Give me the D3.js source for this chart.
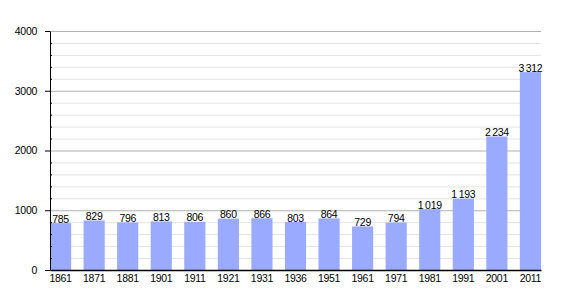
<!DOCTYPE html>
<html>
<head>
<meta charset="utf-8">
<script src="https://cdn.jsdelivr.net/npm/d3@7"></script>
<style>
  body { margin: 0; background: #fff; }
  text { font-family: "Liberation Sans", Arial, sans-serif; }
</style>
</head>
<body>
<div id="chart"></div>
<script>
// census years and population
const years = ["1861","1871","1881","1901","1911","1921","1931","1936","1951","1961","1971","1981","1991","2001","2011"];
const population = [785, 829, 796, 813, 806, 860, 866, 803, 864, 729, 794, 1019, 1193, 2234, 3312];
const yTicks = [0, 1000, 2000, 3000, 4000];

const size = {width: 570, height: 300};
const margin = {top: 31, right: 29, bottom: 30, left: 50};
const width = size.width - margin.left - margin.right;
const height = size.height - margin.top - margin.bottom;
const fontSize = 10.5;

const svg = d3.select("#chart").append("svg")
    .attr("width", size.width)
    .attr("height", size.height)
    .append("g")
    .attr("transform", "translate(" + margin.left + "," + margin.top + ")");

const xScale = d3.scaleBand().domain(years).range([0, width]).paddingInner(0.37).paddingOuter(0);
const yScale = d3.scaleLinear().domain([0, 4000]).range([height, 0]);

// thousands with a space, like "1 019"
const fmt = v => v >= 1000 ? Math.floor(v / 1000) + "\u2009" + String(v % 1000).padStart(3, "0") : String(v);

// minor grid every 200, major every 1000
const minor = d3.range(200, 4001, 200).filter(v => v % 1000 !== 0);
svg.selectAll(".minorGrid").data(minor).join("line")
    .attr("class", "minorGrid")
    .attr("x1", 0).attr("x2", width)
    .attr("y1", d => yScale(d) + 0.5).attr("y2", d => yScale(d) + 0.5)
    .attr("stroke", "#e4e4e4");
svg.selectAll(".majorGrid").data(yTicks.slice(1)).join("line")
    .attr("class", "majorGrid")
    .attr("x1", 0).attr("x2", width)
    .attr("y1", d => yScale(d) + 0.5).attr("y2", d => yScale(d) + 0.5)
    .attr("stroke", "#b0b0b0");

// bars
svg.selectAll(".bar").data(population).join("rect")
    .attr("class", "bar")
    .attr("x", (d, i) => xScale(years[i]))
    .attr("width", xScale.bandwidth())
    .attr("y", d => yScale(d))
    .attr("height", d => height - yScale(d))
    .attr("fill", "#9aabff");

// value labels
svg.selectAll(".valLabel").data(population).join("text")
    .attr("class", "valLabel")
    .attr("x", (d, i) => xScale(years[i]) + xScale.bandwidth() / 2)
    .attr("y", d => yScale(d) - 0.5)
    .attr("text-anchor", "middle")
    .attr("font-size", fontSize)
    .attr("letter-spacing", -0.3)
    .attr("fill", "#000")
    .text(d => fmt(d));

// y axis: minor ticks then major ticks with labels
svg.append("g").attr("class", "yAxisMinor")
    .call(d3.axisLeft(yScale).tickValues(minor).tickSize(3).tickFormat(""))
    .call(g => g.select(".domain").remove())
    .call(g => g.selectAll(".tick line").attr("x2", 2));
svg.append("g").attr("class", "yAxisG")
    .call(d3.axisLeft(yScale).tickValues(yTicks).tickSize(5).tickPadding(8).tickSizeOuter(0).tickFormat(d3.format("d")))
    .call(g => g.selectAll("text").attr("font-size", fontSize).attr("letter-spacing", -0.3).attr("fill", "#000").style("font-family", "Liberation Sans, Arial, sans-serif"));

// x axis
svg.append("g").attr("class", "xAxisG")
    .attr("transform", "translate(0," + height + ")")
    .call(d3.axisBottom(xScale).tickSize(0).tickPadding(5).tickSizeOuter(0))
    .call(g => g.select(".domain").attr("stroke-width", 1.5))
    .call(g => g.selectAll("text").attr("font-size", fontSize).attr("letter-spacing", -0.3).attr("fill", "#000").style("font-family", "Liberation Sans, Arial, sans-serif"));
</script>
</body>
</html>
